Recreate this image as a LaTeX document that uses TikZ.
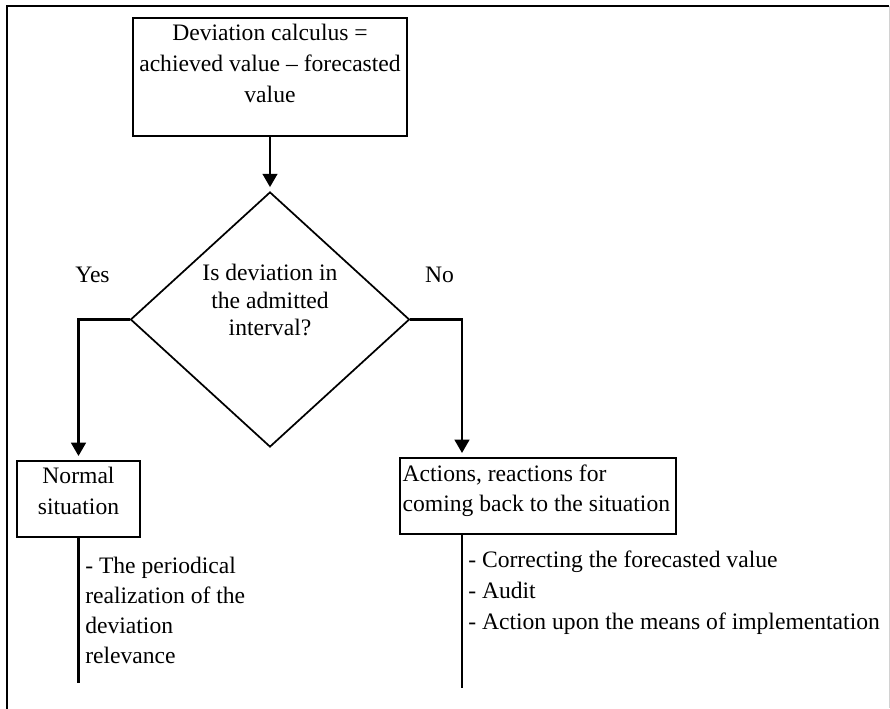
\documentclass[tikz,border=0pt]{standalone}
\usepackage{fontspec}
\setmainfont{Liberation Serif}
\usepackage{tikz}
\usetikzlibrary{shapes.geometric,arrows.meta}

\newcommand{\boxtext}[3]{\parbox[c][#1][t]{#2}{#3}}

\begin{document}
\begin{tikzpicture}[x=0.75pt,y=-0.75pt]
		\tikzstyle{every node}+=[inner sep=0pt,font=\fontsize{17.7}{22.5}\selectfont]
		\tikzstyle{box}=[draw=black,line width=1.3pt,inner xsep=2pt,inner ysep=5pt]
		\tikzstyle{link}=[black,line width=1.8pt]
		\tikzstyle{arrow}=[link,-{Triangle[width=11pt,length=10pt]},shorten >=3pt]
		\useasboundingbox (0,0) rectangle (890,708);
		\draw [black,line width=2.2pt] (7,712) -- (7,6) -- (889,6);
		\draw [gray!35,line width=0.6pt] (889.5,6) -- (889.5,708);
		\node [box,anchor=north] (calc) at (270,17) {\boxtext{78.5pt}{201.5pt}{\centering\fontsize{17.7}{23.2}\selectfont Deviation calculus =\\achieved value – forecasted\\value}};
		\node [draw=black,line width=1.3pt,diamond,minimum width=209.25pt,minimum height=191.25pt] (test) at (270,319.5) {};
		\node [align=center,font=\fontsize{17.7}{20.6}\selectfont] (testtext) at (270,300) {Is deviation in\\the admitted\\interval?};
		\node (yes) at (92.5,274.5) {Yes};
		\node (no) at (439.5,274.5) {No};
		\node [box,anchor=north] (normal) at (78.5,460) {\boxtext{47pt}{88.25pt}{\centering\fontsize{17.7}{23.2}\selectfont Normal\\situation}};
		\node [box,anchor=north] (actions) at (538,457) {\boxtext{47pt}{203pt}{\raggedright Actions, reactions for\\coming back to the situation}};
		\node [anchor=north west,align=left] (normlist) at (85,557) {- The periodical\\realization of the\\deviation\\relevance};
		\node [anchor=north west,align=left,font=\fontsize{17.7}{23.2}\selectfont] (actlist) at (468,551) {- Correcting the forecasted value\\- Audit\\- Action upon the means of implementation};
		\coordinate (normend) at (78.5,683);
		\coordinate (actend) at (462,688);
		\draw [arrow] (calc) -- (test);
		\draw [arrow] (test.west) -| (normal.north);
		\draw [arrow] (test.east) -| (actions.north -| actend);
		\draw [link] (normal.south) -- (normend);
		\draw [link] (actions.south -| actend) -- (actend);
\end{tikzpicture}
\end{document}
